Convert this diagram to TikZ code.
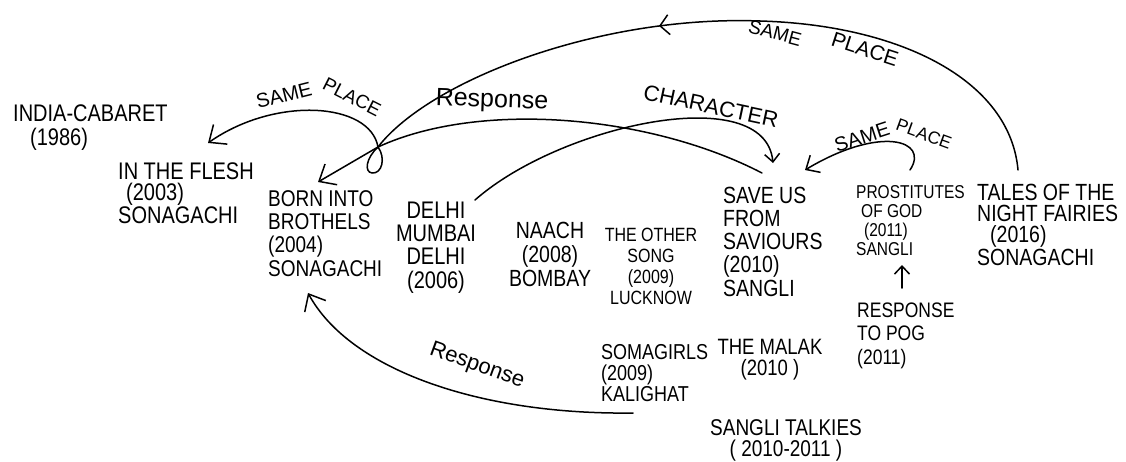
\documentclass[tikz,border=0pt]{standalone}
\usepackage{fontspec}
\setmainfont{Liberation Sans}
\usetikzlibrary{arrows.meta,decorations.markings}
\newcommand\fsz[2]{\fontsize{#1}{#2}\selectfont}
\begin{document}
\begin{tikzpicture}[x=1pt,y=-1pt,
  film/.style={align=left,inner sep=0pt,anchor=base west,yscale=1.2,transform shape},
  filmc/.style={align=center,inner sep=0pt,anchor=base,yscale=1.2,transform shape},
  lbl/.style={inner sep=0pt,font=\fsz{20}{20}},
  pen/.style={line width=1.5pt,line cap=round,line join=round},
  arrbig/.style={pen,-{Straight Barb[length=14pt,width=24pt]}},
  arrmid/.style={pen,-{Straight Barb[length=11pt,width=20pt]}},
  arrsmall/.style={pen,-{Straight Barb[length=8pt,width=15pt]}},
  ]
\fill[white] (0,0) rectangle (1126,461);
\useasboundingbox (0,0) rectangle (1126,461);

% films (positions give the baseline of the last line)
\node[film,font=\fsz{20}{20}] (cabaret) at (13,145) {INDIA-CABARET\\\hspace*{17pt}(1986)};
\node[film,font=\fsz{20}{17.5}] (flesh) at (118,223) {IN THE FLESH\\\hspace*{8pt}(2003)\\SONAGACHI};
\node[film,font=\fsz{19}{19.2}] (born) at (268,276) {BORN INTO\\BROTHELS\\(2004)\\SONAGACHI};
\node[filmc,font=\fsz{20}{19.2}] (delhi) at (436,288) {DELHI\\MUMBAI\\DELHI\\(2006)};
\node[filmc,font=\fsz{19.5}{20}] (naach) at (550,286) {NAACH\\(2008)\\BOMBAY};
\node[filmc,font=\fsz{16}{17.5}] (other) at (651,304) {THE OTHER\\SONG\\(2009)\\LUCKNOW};
\node[film,font=\fsz{19.5}{19.2}] (saveus) at (723,296) {SAVE US\\FROM\\SAVIOURS\\(2010)\\SANGLI};
\node[film,font=\fsz{15.5}{15.8}] (pog) at (856,255) {PROSTITUTES\\\hspace*{5pt}OF GOD\\\hspace*{8pt}(2011)\\SANGLI};
\node[film,font=\fsz{19.5}{17.5}] (tales) at (977,265) {TALES OF THE\\NIGHT FAIRIES\\\hspace*{13pt}(2016)\\SONAGACHI};
\node[film,font=\fsz{17.5}{19.2}] (resp) at (857,364) {RESPONSE\\TO POG\\(2011)};
\node[film,font=\fsz{18}{17.5}] (soma) at (601,401) {SOMAGIRLS\\(2009)\\KALIGHAT};
\node[filmc,font=\fsz{18.5}{16.7}] (malak) at (770,375) {THE MALAK\\(2010 )};
\node[filmc,font=\fsz{19}{17.5}] (talkies) at (786,456) {SANGLI TALKIES\\( 2010-2011 )};

% labels
\node[lbl,font=\fsz{20}{20},rotate=14] (sp1a) at (284,95) {SAME};
\node[lbl,font=\fsz{19}{19},rotate=-27] (sp1b) at (352,97) {PLACE};
\node[lbl,font=\fsz{25}{25},rotate=-2] (resp1) at (492,101) {Response};
\node[lbl,font=\fsz{22}{22},rotate=-12] (charl) at (711,106) {CHARACTER};
\node[lbl,font=\fsz{19}{19},rotate=-15] (sp2a) at (775,33) {SAME};
\node[lbl,font=\fsz{21}{21},rotate=-18] (sp2b) at (865,49) {PLACE};
\node[lbl,font=\fsz{20}{20},rotate=18] (sp3a) at (862,137) {SAME};
\node[lbl,font=\fsz{17.5}{17.5},rotate=-20] (sp3b) at (924,134) {PLACE};
\node[lbl,font=\fsz{22}{22},rotate=-20] (resp2) at (477,366) {Response};

% connector points
\coordinate (J) at (378,147);
\coordinate (bornTip) at (318,182);
\coordinate (fleshTip) at (208,143);
\coordinate (saveEnd) at (762,173);
\coordinate (talesTop) at (1018,170);
\coordinate (arcMid) at (760,21);
\coordinate (delhiTop) at (475,200);
\coordinate (charTip) at (773,163);
\coordinate (pogTop) at (910,170);
\coordinate (spTip) at (805,170);
\coordinate (somaEnd) at (633,413);
\coordinate (bornBot) at (308,293);
\coordinate (respTop) at (902,288);
\coordinate (pogBot) at (902,265);

% connectors
\draw[arrbig] (J) .. controls (370,102) and (275,96) .. (fleshTip);
\draw[pen] (J) .. controls (386,158) and (382,174) .. (372,173) .. controls (364,172) and (366,158) .. (J);
\draw[pen] (saveEnd) .. controls (650,115) and (480,100) .. (J);
\draw[arrbig] (J) -- (bornTip);
\draw[pen] (talesTop) .. controls (1010,80) and (900,25) .. (arcMid);
\draw[pen,postaction={decorate},decoration={markings,mark=at position 0.245 with {\arrow{Straight Barb[length=9pt,width=20pt]}}}] (arcMid) .. controls (600,15) and (430,80) .. (J);
\draw[arrsmall] (delhiTop) .. controls (560,125) and (765,80) .. (charTip);
\draw[arrmid] (pogTop) .. controls (930,140) and (880,125) .. (spTip);
\draw[arrbig] (somaEnd) .. controls (480,415) and (350,370) .. (bornBot);
\draw[arrsmall] (respTop) -- (pogBot);
\end{tikzpicture}
\end{document}
